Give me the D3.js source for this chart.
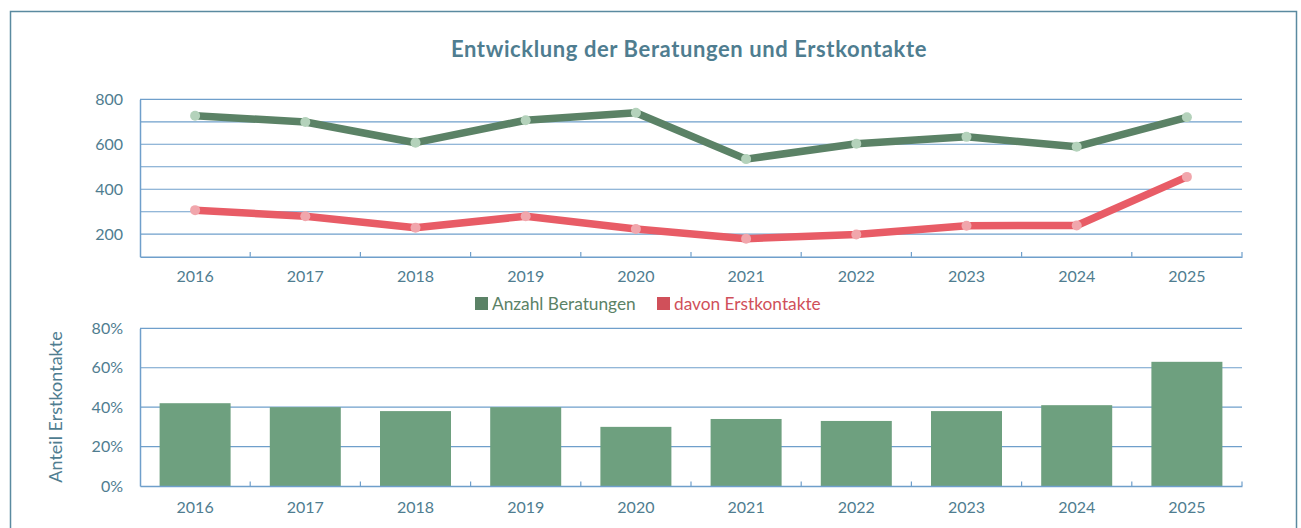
<!DOCTYPE html>
<html><head><meta charset="utf-8">
<script src="https://cdn.jsdelivr.net/npm/d3@7"></script>
<style>body{margin:0;background:#fff}svg{display:block;font-family:Lato,"Open Sans",sans-serif}</style>
</head><body><svg id="c" width="1301" height="528"></svg>
<script>
const years = ["2016","2017","2018","2019","2020","2021","2022","2023","2024","2025"];
const beratungen = [727, 699, 607, 707, 740, 534, 602, 633, 589, 720];
const erstkontakte = [307, 280, 229, 280, 223, 180, 199, 238, 239, 455];
const anteil = [0.42, 0.40, 0.38, 0.40, 0.30, 0.34, 0.33, 0.38, 0.41, 0.63];
const lineTicks = [200, 400, 600, 800];
const lineGrid = [200, 300, 400, 500, 600, 700, 800];
const pctTicks = [0, 0.2, 0.4, 0.6, 0.8];
const seriesNames = ["Anzahl Beratungen", "davon Erstkontakte"];

const svg = d3.select("#c");
const textCol = "#4f7d90", gridCol = "#6f9fcb";
const greenLine = "#5b8266", greenDot = "#b4d2bb", redLine = "#e85c66", redDot = "#f1a6ac";

svg.append("rect").attr("x",10.5).attr("y",11.5).attr("width",1286).attr("height",540)
  .attr("fill","none").attr("stroke","#5a8aa0").attr("stroke-width",1.5);

svg.append("text").attr("x",689).attr("y",57).attr("text-anchor","middle")
  .attr("font-size",22).attr("font-weight",700).attr("fill","#4f7d90")
  .attr("letter-spacing",0.6)
  .text("Entwicklung der Beratungen und Erstkontakte");

const x = d3.scaleBand().domain(years).range([140,1242]);
// top line chart
const y1 = d3.scaleLinear().domain([100,800]).range([256.7,99.3]);
const g1 = svg.append("g");
g1.selectAll("line.grid").data(lineGrid).join("line")
  .attr("x1",140).attr("x2",1242).attr("y1",d=>y1(d)).attr("y2",d=>y1(d))
  .attr("stroke",gridCol).attr("stroke-width",1.2);
const ax1 = g1.append("g").attr("transform","translate(0,256.7)")
  .call(d3.axisBottom(x).tickSize(0).tickPadding(14));
ax1.select(".domain").attr("stroke",gridCol).attr("stroke-width",1.5);
ax1.selectAll("text").attr("font-size",16).attr("fill",textCol).attr("font-family","Lato");
g1.selectAll("line.tk").data(years.slice(1).concat(["end"])).join("line")
  .attr("x1",(d,i)=>140+x.step()*(i+1)).attr("x2",(d,i)=>140+x.step()*(i+1))
  .attr("y1",256.7).attr("y2",252).attr("stroke",gridCol).attr("stroke-width",1.2);
const ay1 = g1.append("g").attr("transform","translate(140,0)")
  .call(d3.axisLeft(y1).tickValues(lineTicks).tickSize(0).tickPadding(17));
ay1.select(".domain").attr("stroke",gridCol).attr("stroke-width",1.5);
ay1.selectAll("text").attr("font-size",16).attr("fill",textCol).attr("font-family","Lato");

const cx = d => x(d) + x.bandwidth()/2;
const lineGen = d3.line().x((d,i)=>cx(years[i])).y(d=>y1(d));
[[beratungen,greenLine,greenDot],[erstkontakte,redLine,redDot]].forEach(([s,lc,dc])=>{
  g1.append("path").datum(s).attr("d",lineGen).attr("fill","none")
    .attr("stroke",lc).attr("stroke-width",7.5).attr("stroke-linejoin","round");
  g1.selectAll(null).data(s).join("circle").attr("cx",(d,i)=>cx(years[i])).attr("cy",d=>y1(d))
    .attr("r",5).attr("fill",dc);
});

// legend
const leg = svg.append("g");
[[seriesNames[0],greenLine,"#5b8266",475],[seriesNames[1],"#d0505a","#d0505a",657]].forEach(([n,c,tc,lx])=>{
  leg.append("rect").attr("x",lx).attr("y",297).attr("width",13).attr("height",13).attr("fill",c);
  leg.append("text").attr("x",lx+17).attr("y",310).attr("font-size",17.3).attr("fill",tc).text(n);
});

// bottom bar chart
const y2 = d3.scaleLinear().domain([0,0.8]).range([486,328.3]);
const g2 = svg.append("g");
g2.selectAll("line.grid").data(pctTicks.slice(1)).join("line")
  .attr("x1",140).attr("x2",1242).attr("y1",d=>y2(d)).attr("y2",d=>y2(d))
  .attr("stroke",gridCol).attr("stroke-width",1.2);
const bw = 71;
g2.selectAll("rect.bar").data(anteil).join("rect")
  .attr("x",(d,i)=>cx(years[i])-bw/2).attr("width",bw)
  .attr("y",d=>y2(d)).attr("height",d=>y2(0)-y2(d)).attr("fill","#6ea07f");
const ax2 = g2.append("g").attr("transform","translate(0,486)")
  .call(d3.axisBottom(x).tickSize(0).tickPadding(16));
ax2.select(".domain").attr("stroke",gridCol).attr("stroke-width",1.5);
ax2.selectAll("text").attr("font-size",16).attr("fill",textCol).attr("font-family","Lato");
g2.selectAll("line.tk").data(years.slice(1).concat(["end"])).join("line")
  .attr("x1",(d,i)=>140+x.step()*(i+1)).attr("x2",(d,i)=>140+x.step()*(i+1))
  .attr("y1",486).attr("y2",481.5).attr("stroke",gridCol).attr("stroke-width",1.2);
const ay2 = g2.append("g").attr("transform","translate(140,0)")
  .call(d3.axisLeft(y2).tickValues(pctTicks).tickFormat(d3.format(".0%")).tickSize(0).tickPadding(17));
ay2.select(".domain").attr("stroke",gridCol).attr("stroke-width",1.5);
ay2.selectAll("text").attr("font-size",16).attr("fill",textCol).attr("font-family","Lato");

svg.append("text").attr("transform","translate(62,407) rotate(-90)").attr("text-anchor","middle")
  .attr("font-size",18).attr("fill",textCol).text("Anteil Erstkontakte");
</script></body></html>
